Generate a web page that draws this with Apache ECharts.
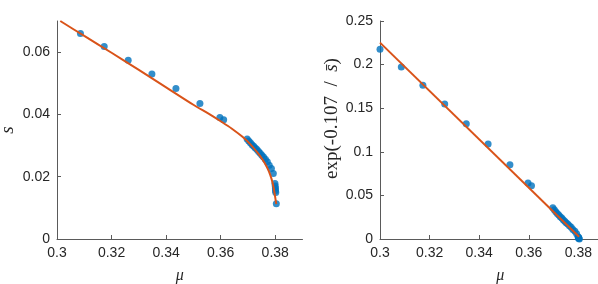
<!DOCTYPE html>
<html>
<head>
<meta charset="utf-8">
<script src="https://cdn.jsdelivr.net/npm/echarts@6/dist/echarts.min.js"></script>
<style>
html,body{margin:0;padding:0;background:#fff;}
#c{width:598px;height:284px;}
</style>
</head>
<body>
<div id="c"></div>
<script>
// measured data points (mu, s) and the transformed value exp(-0.107/s)
const mu = [0.3000, 0.3086, 0.3173, 0.3261, 0.3348, 0.3436, 0.3524, 0.3597, 0.3611,
  0.3697, 0.3703, 0.3709, 0.3715, 0.3721, 0.3727, 0.3733, 0.3739, 0.3745, 0.3751, 0.3757,
  0.3764, 0.3771, 0.3778, 0.3786, 0.3793, 0.3799, 0.3800, 0.3801, 0.3801, 0.3802, 0.3804];
const sVals = [0.0702, 0.0660, 0.0618, 0.0574, 0.0530, 0.0483, 0.0435, 0.0390, 0.0383,
  0.0321, 0.0315, 0.0309, 0.0303, 0.0298, 0.0292, 0.0287, 0.0281, 0.0275, 0.0269, 0.0263,
  0.0256, 0.0248, 0.0237, 0.0226, 0.0210, 0.0178, 0.0170, 0.0163, 0.0156, 0.0149, 0.0113];
const expVals = [0.2175, 0.1972, 0.1762, 0.1548, 0.1323, 0.1089, 0.0852, 0.0642, 0.0612,
  0.0357, 0.0335, 0.0313, 0.0293, 0.0276, 0.0256, 0.0240, 0.0222, 0.0204, 0.0187, 0.0171,
  0.0153, 0.0134, 0.0110, 0.0088, 0.0061, 0.0025, 0.0018, 0.0014, 0.0010, 0.0008, 0.0001];

// fitted curve (left)
const fitMu = [0.3012, 0.3100, 0.3200, 0.3300, 0.3400, 0.3500, 0.3560, 0.3600, 0.3640, 0.3680,
  0.3710, 0.3735, 0.3755, 0.3770, 0.3782, 0.3791, 0.3797, 0.3801, 0.3804];
const fitS = [0.0700, 0.0652, 0.0598, 0.0543, 0.0487, 0.0431, 0.0400, 0.0378, 0.0355, 0.0328,
  0.0303, 0.0277, 0.0253, 0.0230, 0.0205, 0.0178, 0.0150, 0.0128, 0.0112];

// fitted straight line (right)
const lineMu = [0.3000, 0.3803];
const lineExp = [0.2252, 0.0025];

// ticks
const xTicks = [0.3, 0.32, 0.34, 0.36, 0.38];
const yTicksLeft = [0, 0.02, 0.04, 0.06];
const yTicksRight = [0, 0.05, 0.1, 0.15, 0.2, 0.25];

const zip = (a, b) => a.map((v, i) => [v, b[i]]);

const blue = '#0072BD';
const red = '#D95319';
const axisCol = '#5a5a5a';
const txtCol = '#262626';
const sans = "'Liberation Sans', Helvetica, Arial, sans-serif";
const serif = "'Liberation Serif', 'Times New Roman', serif";

function xAxisCfg(grid, max) {
  return {
    type: 'value', gridIndex: grid, min: 0.3, max: max,
    axisLine: {show: true, lineStyle: {color: axisCol, width: 1}},
    axisTick: {show: true, inside: true, length: 4, lineStyle: {color: axisCol}, customValues: xTicks},
    axisLabel: {color: txtCol, fontSize: 14, fontFamily: sans, margin: 7, customValues: xTicks},
    splitLine: {show: false},
    name: 'μ', nameLocation: 'middle', nameGap: 29,
    nameTextStyle: {color: txtCol, fontSize: 16, fontStyle: 'italic', fontFamily: serif}
  };
}
function yAxisCfg(grid, max, ticks, name, nameStyle, gap) {
  return {
    type: 'value', gridIndex: grid, min: 0, max: max,
    axisLine: {show: true, lineStyle: {color: axisCol, width: 1}},
    axisTick: {show: true, inside: true, length: 4, lineStyle: {color: axisCol}, customValues: ticks},
    axisLabel: {color: txtCol, fontSize: 14, fontFamily: sans, margin: 7, customValues: ticks},
    splitLine: {show: false},
    name: name, nameLocation: 'middle', nameGap: gap,
    nameTextStyle: nameStyle
  };
}

const chart = echarts.init(document.getElementById('c'), null, {renderer: 'canvas'});
chart.setOption({
  animation: false,
  backgroundColor: '#fff',
  grid: [
    {left: 57, top: 21, width: 245.5, height: 218, outerBoundsMode: 'none', containLabel: false},
    {left: 380, top: 21, width: 240.5, height: 218, outerBoundsMode: 'none', containLabel: false}
  ],
  xAxis: [xAxisCfg(0, 0.39), xAxisCfg(1, 0.397)],
  yAxis: [
    yAxisCfg(0, 0.07, yTicksLeft, 's',
      {color: txtCol, fontSize: 19, fontStyle: 'italic', fontFamily: serif}, 40),
    yAxisCfg(1, 0.25, yTicksRight, '{n|exp(-0.107\u2002/\u2002}{i|s̄}{n|)}',
      {color: txtCol, fontSize: 19, fontFamily: serif, padding: [0, 0, 0, 23],
       rich: {n: {fontSize: 19, fontFamily: serif, color: txtCol},
              i: {fontSize: 19, fontFamily: serif, fontStyle: 'italic', color: txtCol}}}, 35)
  ],
  series: [
    {type: 'scatter', xAxisIndex: 0, yAxisIndex: 0, data: zip(mu, sVals), symbolSize: 7,
     itemStyle: {color: blue}, clip: true, z: 2},
    {type: 'line', xAxisIndex: 0, yAxisIndex: 0, data: zip(fitMu, fitS), showSymbol: false,
     smooth: 0.3, lineStyle: {color: red, width: 2}, clip: true, z: 3},
    {type: 'scatter', xAxisIndex: 1, yAxisIndex: 1, data: zip(mu, expVals), symbolSize: 7,
     itemStyle: {color: blue}, clip: false, z: 2},
    {type: 'line', xAxisIndex: 1, yAxisIndex: 1, data: zip(lineMu, lineExp), showSymbol: false,
     lineStyle: {color: red, width: 2}, clip: true, z: 3}
  ]
});
</script>
</body>
</html>
